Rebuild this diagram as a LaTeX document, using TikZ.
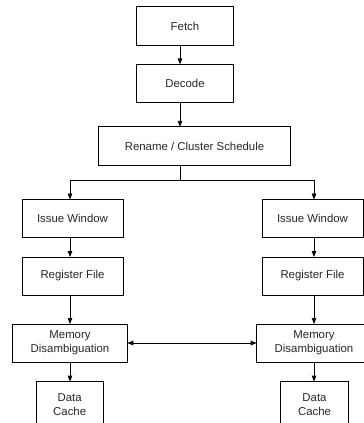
\documentclass[tikz,border=0pt]{standalone}
\usepackage{fontspec}
\setmainfont{Liberation Sans}
\usetikzlibrary{arrows.meta}
\tikzset{
  box/.style={draw=black, line width=0.8pt, inner sep=0pt, outer sep=0pt, align=center,
    font=\fontsize{11.4}{14}\selectfont, text=black!85},
  arr/.style={draw=black, line width=0.8pt, -{Triangle[length=6pt,width=4.5pt]}},
  dbl/.style={draw=black, line width=0.8pt, {Triangle[length=6pt,width=4.5pt]}-{Triangle[length=6pt,width=4.5pt]}},
  ln/.style={draw=black, line width=0.8pt}
}
\begin{document}
\begin{tikzpicture}[x=1pt,y=-1pt]
\useasboundingbox (0,0) rectangle (364,423);
\clip (0,0) rectangle (364,423);
\node[box, minimum width=96.5pt, minimum height=38.3pt] (fetch) at (185,26) {Fetch};
\node[box, minimum width=96.5pt, minimum height=38.3pt] (decode) at (185,83.5) {Decode};
\node[box, minimum width=191.5pt, minimum height=38.3pt] (rename) at (194.5,146) {Rename / Cluster Schedule};
\node[box, minimum width=101pt, minimum height=38pt] (iwL) at (72.5,218.5) {Issue Window};
\node[box, minimum width=101pt, minimum height=38pt] (iwR) at (312.5,218.5) {Issue Window};
\node[box, minimum width=101pt, minimum height=38pt] (rfL) at (72.5,276) {Register File};
\node[box, minimum width=101pt, minimum height=38pt] (rfR) at (312.5,276) {Register File};
\node[box, minimum width=114.6pt, minimum height=38pt] (mdL) at (70,343) {Memory\\Disambiguation};
\node[box, minimum width=114.6pt, minimum height=38pt] (mdR) at (314,343) {Memory\\Disambiguation};
\node[box, minimum width=67.3pt, minimum height=46pt] (dcL) at (69.7,404.7) {Data\\Cache};
\node[box, minimum width=67.3pt, minimum height=46pt] (dcR) at (314.5,404.7) {Data\\Cache};
\coordinate (split) at (180,180);
\draw[arr] ([xshift=-5pt]fetch.south) -- ([xshift=-5pt]decode.north);
\draw[arr] ([xshift=-5pt]decode.south) -- ([xshift=-14.5pt]rename.north);
\draw[ln] ([xshift=-14.5pt]rename.south) -- (split);
\draw[arr] (split) -| ([xshift=-2.5pt]iwL.north);
\draw[arr] (split) -| ([xshift=1.5pt]iwR.north);
\draw[arr] ([xshift=-2.5pt]iwL.south) -- ([xshift=-2.5pt]rfL.north);
\draw[arr] ([xshift=1.5pt]iwR.south) -- ([xshift=1.5pt]rfR.north);
\draw[arr] ([xshift=-2.5pt]rfL.south) -- (mdL.north);
\draw[arr] ([xshift=1.5pt]rfR.south) -- (mdR.north);
\draw[arr] (mdL.south) -- (mdL.south |- dcL.north);
\draw[arr] (mdR.south) -- (mdR.south |- dcR.north);
\draw[dbl] (mdL.east) -- (mdR.west);
\end{tikzpicture}
\end{document}
